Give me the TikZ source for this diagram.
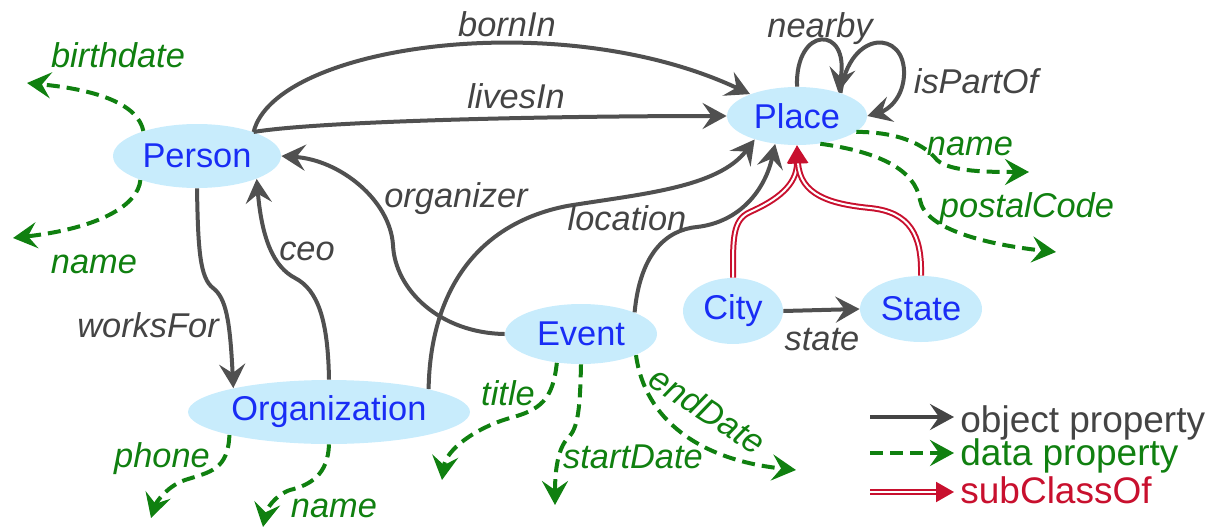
\documentclass[tikz,border=0pt]{standalone}
\usepackage{fontspec}
\setmainfont{Liberation Sans}
\usetikzlibrary{arrows.meta,shapes.geometric}

\definecolor{objgray}{RGB}{80,80,80}
\definecolor{labgray}{RGB}{68,68,68}
\definecolor{datagreen}{RGB}{16,128,16}
\definecolor{subred}{RGB}{200,16,46}
\definecolor{classblue}{RGB}{25,45,245}
\definecolor{classfill}{RGB}{200,236,252}

\tikzset{
  cls/.style={ellipse, fill=classfill, draw=none, inner sep=0pt,
    text=classblue, font=\fontsize{17.2}{20}\selectfont},
  objprop/.style={draw=objgray, line width=2pt,
    -{Stealth[length=12pt,width=13pt,inset=4.5pt]}},
  dataprop/.style={draw=datagreen, line width=2pt, dash pattern=on 6.5pt off 3.5pt,
    -{Stealth[length=12pt,width=13pt,inset=4.5pt]}},
  subcls/.style={draw=subred, line width=1pt, double=white, double distance=1pt,
    -{Triangle[length=9pt,width=10pt]}},
  objlab/.style={text=labgray, font=\fontsize{17.2}{20}\selectfont\itshape,
    anchor=base, inner sep=0pt},
  datalab/.style={text=datagreen, font=\fontsize{17.2}{20}\selectfont\itshape,
    anchor=base, inner sep=0pt},
  legtext/.style={font=\fontsize{18.5}{22}\selectfont, anchor=base west, inner sep=0pt},
}

\begin{document}
\begin{tikzpicture}[x=0.5pt,y=-0.5pt]
\path[use as bounding box] (0,0) rectangle (1209,530);

% classes
\node[cls, minimum width=84pt, minimum height=32pt] (person) at (197,156) {Person};
\node[cls, minimum width=70pt, minimum height=29pt] (place) at (797,116) {Place};
\node[cls, minimum width=141pt, minimum height=32pt] (org) at (329,412) {Organization};
\node[cls, minimum width=76pt, minimum height=30pt] (event) at (581,334) {Event};
\node[cls, minimum width=50pt, minimum height=33pt] (city) at (733,311) {City};
\node[cls, minimum width=61pt, minimum height=33pt] (state) at (921,309) {State};

% free ends of the data properties
\coordinate (pbirth) at (27,83);
\coordinate (pname) at (13,238);
\coordinate (ophone) at (151,518);
\coordinate (oname) at (263,527);
\coordinate (etitle) at (442,480);
\coordinate (estart) at (555,505);
\coordinate (eend) at (796,470);
\coordinate (lname) at (1029,172);
\coordinate (lpostal) at (1056,252);

% object properties
\draw[objprop] (person.23) .. controls (275,45) and (560,5) .. (place.155);
\draw[objprop] (person.23) .. controls (320,121) and (550,116) .. (place.west);
\draw[objprop] (place.north) .. controls (795,25) and (850,25) .. (place.30);
\draw[objprop] (place.28) .. controls (850,28) and (906,30) .. (904,75)
  .. controls (903,98) and (888,110) .. (place.east);
\draw[objprop] (person.south) .. controls (198,250) and (200,278) .. (213,288)
  .. controls (226,298) and (230,320) .. (org.166);
\draw[objprop] (org.north) .. controls (328,320) and (318,290) .. (295,278)
  .. controls (274,267) and (262,240) .. (person.339);
\draw[objprop] (event.west) .. controls (440,333) and (395,290) .. (393,245)
  .. controls (390,200) and (340,160) .. (person.east);
\draw[objprop] (org.13) .. controls (430,300) and (470,225) .. (567,206)
  .. controls (640,194) and (718,188) .. (place.209);
\draw[objprop] (event.22) .. controls (640,255) and (665,230) .. (697,227)
  .. controls (740,222) and (765,190) .. (place.232);
\draw[objprop] (city.east) -- (state.west);

% subclass links
\draw[subcls] (city.north) .. controls (733,240) and (732,220) .. (750,212)
  .. controls (777,200) and (797,185) .. (place.south);
\draw[subcls] (state.north) .. controls (922,235) and (910,212) .. (870,208)
  .. controls (830,204) and (800,195) .. (place.south);

% data properties
\draw[dataprop] (person.155) .. controls (138,105) and (100,90) .. (pbirth);
\draw[dataprop] (person.203) .. controls (138,205) and (100,228) .. (pname);
\draw[dataprop] (org.193) .. controls (228,470) and (210,472) .. (185,480)
  .. controls (165,487) and (155,505) .. (ophone);
\draw[dataprop] (org.south) .. controls (328,475) and (310,485) .. (290,490)
  .. controls (275,495) and (266,510) .. (oname);
\draw[dataprop] (event.230) .. controls (553,400) and (540,410) .. (510,418)
  .. controls (475,428) and (446,450) .. (etitle);
\draw[dataprop] (event.south) .. controls (580,410) and (578,428) .. (568,438)
  .. controls (558,448) and (555,470) .. (estart);
\draw[dataprop] (event.339) .. controls (645,420) and (700,460) .. (eend);
\draw[dataprop] (place.-15) .. controls (900,132) and (925,145) .. (937,160)
  .. controls (950,172) and (990,172) .. (lname);
\draw[dataprop] (place.-50) .. controls (880,152) and (915,170) .. (920,200)
  .. controls (925,230) and (990,245) .. (lpostal);

% object property labels
\node[objlab] (lbornin) at (507,36) {bornIn};
\node[objlab] (llivesin) at (516,108) {livesIn};
\node[objlab] (lnearby) at (820,37) {nearby};
\node[objlab] (lispartof) at (976,93) {isPartOf};
\node[objlab] (lorganizer) at (456,207) {organizer};
\node[objlab] (llocation) at (627,230) {location};
\node[objlab] (lceo) at (307,260) {ceo};
\node[objlab] (lworksfor) at (148,337) {worksFor};
\node[objlab] (lstate) at (822,350) {state};

% data property labels
\node[datalab] (lbirth) at (118,67) {birthdate};
\node[datalab] (lpname) at (94,273) {name};
\node[datalab] (lphone) at (162,467) {phone};
\node[datalab] (loname) at (334,517) {name};
\node[datalab] (ltitle) at (508,405) {title};
\node[datalab] (lstart) at (633,468) {startDate};
\node[datalab, anchor=center, rotate=-33] (lend) at (708,410) {endDate};
\node[datalab] (llname) at (970,155) {name};
\node[datalab] (lpostal) at (1027,217) {postalCode};

% legend
\node[legtext, text=labgray] (legobj) at (960,432) {object property};
\node[legtext, text=datagreen] (legdata) at (960,465) {data property};
\node[legtext, text=subred] (legsub) at (960,503) {subClassOf};
\coordinate (lga) at (870,417);
\coordinate (lgb) at (954,417);
\coordinate (lgc) at (870,453);
\coordinate (lgd) at (954,453);
\coordinate (lge) at (870,492);
\coordinate (lgf) at (954,492);
\draw[objprop, draw=labgray] (lga) -- (lgb);
\draw[dataprop] (lgc) -- (lgd);
\draw[subcls] (lge) -- (lgf);
\end{tikzpicture}
\end{document}
